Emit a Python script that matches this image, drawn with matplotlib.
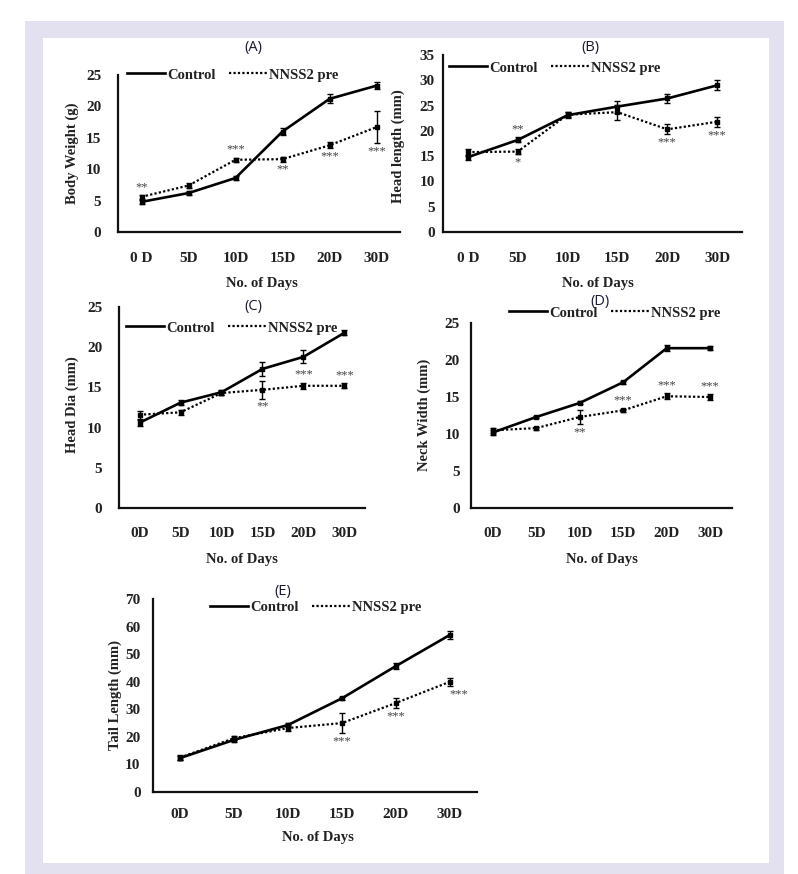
import matplotlib
matplotlib.use("Agg")
import matplotlib.pyplot as plt
from matplotlib.patches import Rectangle
from matplotlib.lines import Line2D
import numpy as np

W, H = 798, 874

days_ab = ["0 D", "5D", "10D", "15D", "20D", "30D"]
days_cde = ["0D", "5D", "10D", "15D", "20D", "30D"]
series_names = ["Control", "NNSS2 pre"]

# (A) Body weight (g)
bw_control = [4.8, 6.2, 8.6, 16.0, 21.2, 23.3]
bw_control_err = [0.3, 0.3, 0.3, 0.5, 0.7, 0.6]
bw_nnss2 = [5.6, 7.4, 11.5, 11.6, 13.8, 16.7]
bw_nnss2_err = [0.3, 0.4, 0.3, 0.4, 0.5, 2.5]
bw_stars = [(0, "**", "above"), (2, "***", "above"), (3, "**", "below"),
            (4, "***", "below"), (5, "***", "below")]

# (B) Head length (mm)
hl_control = [14.8, 18.2, 23.1, 24.8, 26.4, 29.0]
hl_control_err = [0.5, 0.5, 0.6, 1.2, 0.8, 1.0]
hl_nnss2 = [15.8, 15.9, 23.2, 23.7, 20.3, 21.8]
hl_nnss2_err = [0.7, 0.5, 0.5, 1.5, 1.0, 1.0]
hl_stars_control = [(1, "**", "above")]
hl_stars = [(1, "*", "below"), (4, "***", "below"), (5, "***", "below")]

# (C) Head diameter (mm)
hd_control = [10.6, 13.1, 14.4, 17.3, 18.8, 21.8]
hd_control_err = [0.4, 0.3, 0.3, 0.9, 0.8, 0.3]
hd_nnss2 = [11.6, 11.9, 14.3, 14.7, 15.2, 15.2]
hd_nnss2_err = [0.5, 0.3, 0.3, 1.1, 0.4, 0.3]
hd_stars = [(3, "**", "below"), (4, "***", "above"), (5, "***", "above")]

# (D) Neck width (mm)
nw_control = [10.2, 12.3, 14.2, 17.0, 21.6, 21.6]
nw_control_err = [0.3, 0.2, 0.2, 0.2, 0.4, 0.3]
nw_nnss2 = [10.5, 10.8, 12.3, 13.2, 15.1, 15.0]
nw_nnss2_err = [0.3, 0.2, 1.0, 0.2, 0.4, 0.4]
nw_stars = [(2, "**", "below"), (3, "***", "above"), (4, "***", "above"), (5, "***", "above")]

# (E) Tail length (mm)
tl_control = [12.3, 18.9, 24.3, 34.0, 45.7, 57.0]
tl_control_err = [0.8, 0.8, 0.8, 0.6, 1.2, 1.5]
tl_nnss2 = [12.5, 19.5, 23.2, 25.0, 32.3, 40.0]
tl_nnss2_err = [0.8, 0.8, 1.0, 3.6, 1.8, 1.5]
tl_stars = [(3, "***", "below"), (4, "***", "below"), (5, "***", "below")]

SERIF = ["Liberation Serif", "DejaVu Serif"]
SANS = ["Open Sans", "DejaVu Sans"]
TXT = "#222222"

fig = plt.figure(figsize=(W / 100, H / 100), dpi=100)
fig.patch.set_facecolor("white")
fig.add_artist(Rectangle((25 / W, 0), (784 - 25) / W, (H - 21) / H,
                         transform=fig.transFigure, facecolor="#e3e1f0",
                         edgecolor="none", zorder=-10))
fig.add_artist(Rectangle((43 / W, 1 - 863 / H), (769 - 43) / W, (863 - 38) / H,
                         transform=fig.transFigure, facecolor="white",
                         edgecolor="none", zorder=-9))

CTRL_STYLE = dict(color="black", lw=1.9, ls="-")
NN_STYLE = dict(color="black", lw=1.6, ls=(0, (1, 1)))


def px(x, y):
    return x / W, 1 - y / H


def make_panel(l, r, y0, ytop, ymax, ystep, labels, ctrl, ctrl_err, nn, nn_err,
               stars, ylabel, ylab_xy, xlab_xy, title, title_xy, leg_xy,
               ypad, xpad, stars_ctrl=(), star_dx=None):
    ax = fig.add_axes([l / W, 1 - y0 / H, (r - l) / W, (y0 - ytop) / H])
    ax.set_facecolor("none")
    x = np.arange(len(labels))
    ax.errorbar(x, ctrl, yerr=ctrl_err, marker="s", ms=3, capsize=2.5,
                elinewidth=1.0, capthick=1.0, zorder=3, **CTRL_STYLE)
    ax.errorbar(x, nn, yerr=nn_err, marker="s", ms=3, capsize=2.5,
                elinewidth=1.0, capthick=1.0, zorder=3, **NN_STYLE)
    ax.set_xlim(-0.5, len(labels) - 0.5)
    ax.set_ylim(0, ymax)
    ax.set_yticks(np.arange(0, ymax + 0.1, ystep))
    ax.set_xticks(x)
    ax.set_xticklabels(labels)
    for s in ["top", "right"]:
        ax.spines[s].set_visible(False)
    for s in ["left", "bottom"]:
        ax.spines[s].set_linewidth(1.6)
        ax.spines[s].set_color("#111111")
    ax.tick_params(axis="both", length=0, labelsize=11)
    ax.tick_params(axis="y", pad=ypad)
    ax.tick_params(axis="x", pad=xpad)
    for t in ax.get_xticklabels() + ax.get_yticklabels():
        t.set_fontfamily(SERIF)
        t.set_fontweight("bold")
        t.set_color(TXT)

    def put_stars(lst, vals, errs):
        for i, txt, pos in lst:
            dx = 0
            if star_dx is not None and i in star_dx:
                dx = star_dx[i]
            if pos == "above":
                yv = vals[i] + errs[i]
                off = 1
                va = "bottom"
            else:
                yv = vals[i] - errs[i]
                off = -1
                va = "top"
            ax.annotate(txt, (i, yv), xytext=(dx, off * 1.5), textcoords="offset points",
                        ha="center", va=va, fontsize=9, fontfamily=SERIF,
                        color="#444444", zorder=4)

    put_stars(stars, nn, nn_err)
    put_stars(stars_ctrl, ctrl, ctrl_err)

    handles = [Line2D([], [], **CTRL_STYLE), Line2D([], [], **NN_STYLE)]
    leg = ax.legend(handles, series_names, loc="center", bbox_to_anchor=px(*leg_xy),
                    bbox_transform=fig.transFigure,
                    ncol=2, frameon=False, handlelength=2.6, handletextpad=0.15,
                    columnspacing=0.9, borderaxespad=0,
                    prop={"family": SERIF, "weight": "bold", "size": 10.5})
    for t in leg.get_texts():
        t.set_color(TXT)
    fig.text(*px(*ylab_xy), ylabel, rotation=90, ha="center", va="center",
             fontsize=10.5, fontfamily=SERIF, fontweight="bold", color=TXT)
    fig.text(*px(*xlab_xy), "No. of Days", ha="center", va="center",
             fontsize=10.5, fontfamily=SERIF, fontweight="bold", color=TXT)
    fig.text(*px(*title_xy), title, ha="center", va="center",
             fontsize=10.5, fontfamily=SANS, color="#1a1a2e")
    return ax


make_panel(118, 400, 232, 75, 25, 5, days_ab, bw_control, bw_control_err,
           bw_nnss2, bw_nnss2_err, bw_stars, "Body Weight (g)", (72, 153),
           (262, 283), "(A)", (253, 48), (233, 75), ypad=12, xpad=14.5)

make_panel(443, 742, 232, 55, 35, 5, days_ab, hl_control, hl_control_err,
           hl_nnss2, hl_nnss2_err, hl_stars, "Head length (mm)", (398, 146),
           (598, 283), "(B)", (590, 48), (555, 68), ypad=6, xpad=14.5,
           stars_ctrl=hl_stars_control)

make_panel(119, 365, 508, 307, 25, 5, days_cde, hd_control, hd_control_err,
           hd_nnss2, hd_nnss2_err, hd_stars, "Head Dia (mm)", (72, 405),
           (242, 560), "(C)", (253, 307), (232, 328), ypad=12, xpad=13.5)

make_panel(471, 732, 508, 323, 25, 5, days_cde, nw_control, nw_control_err,
           nw_nnss2, nw_nnss2_err, nw_stars, "Neck Width (mm)", (424, 415),
           (602, 560), "(D)", (600, 302), (615, 313), ypad=8, xpad=13.5)

make_panel(153, 477, 792, 599, 70, 10, days_cde, tl_control, tl_control_err,
           tl_nnss2, tl_nnss2_err, tl_stars, "Tail Length (mm)", (115, 695),
           (318, 837), "(E)", (283, 592), (316, 607), ypad=9, xpad=11.5,
           star_dx={5: 6})

fig.savefig("out.png", dpi=100, facecolor="white")
